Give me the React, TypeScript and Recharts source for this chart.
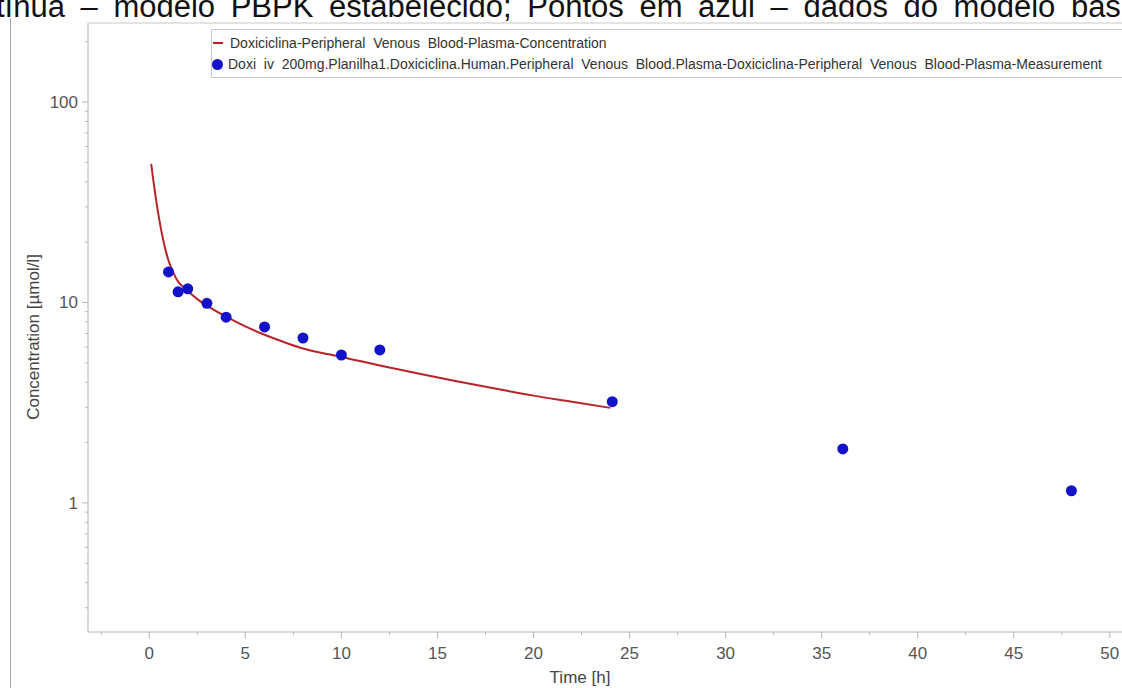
import React from "react";
import {
  ComposedChart,
  Line,
  Scatter,
  XAxis,
  YAxis,
  Legend,
  ReferenceLine,
  Label,
} from "recharts";

// simulated PBPK curve
const lineTime = [0.1, 0.2, 0.3, 0.4, 0.5, 0.6, 0.75, 1, 1.25, 1.5, 1.75, 2, 2.5, 3, 4, 5, 6, 7, 8, 9, 10, 12, 14, 16, 18, 20, 22, 24];
const lineConc = [49.1, 41.4, 35.3, 30.4, 26.6, 23.5, 20, 16.2, 14.1, 12.7, 12, 11.4, 10.4, 9.65, 8.5, 7.6, 6.9, 6.35, 5.9, 5.6, 5.35, 4.85, 4.42, 4.05, 3.72, 3.43, 3.2, 2.98];

// observed data
const measTime = [1, 1.5, 2, 3, 4, 6, 8, 10, 12, 24.1, 36.1, 48];
const measConc = [14.2, 11.3, 11.7, 9.9, 8.45, 7.55, 6.65, 5.47, 5.8, 3.2, 1.86, 1.15];

const xTicks = [-2.5, 0, 2.5, 5, 7.5, 10, 12.5, 15, 17.5, 20, 22.5, 25, 27.5, 30, 32.5, 35, 37.5, 40, 42.5, 45, 47.5, 50];
const yTicks = [0.3, 0.4, 0.5, 0.6, 0.7, 0.8, 0.9, 1, 2, 3, 4, 5, 6, 7, 8, 9, 10, 20, 30, 40, 50, 60, 70, 80, 90, 100, 200];
const yMajor = [1, 10, 100];

const lineName = "Doxiciclina-Peripheral  Venous  Blood-Plasma-Concentration";
const measName =
  "Doxi  iv  200mg.Planilha1.Doxiciclina.Human.Peripheral  Venous  Blood.Plasma-Doxiciclina-Peripheral  Venous  Blood-Plasma-Measurement";
const caption = "contínua – modelo PBPK estabelecido; Pontos em azul – dados do modelo bas";

const lineData = lineTime.map((t, i) => ({ time: t, conc: lineConc[i] }));
const measData = measTime.map((t, i) => ({ time: t, conc: measConc[i] }));

const FONT = "'Liberation Sans', Arial, sans-serif";
const AXIS = "#b4b4b4";

const XTick = (props: any) => {
  const { x, y, payload } = props;
  const major = payload.value % 5 === 0;
  return (
    <g>
      <line x1={x} x2={x} y1={y} y2={y + (major ? 6 : 3)} stroke={AXIS} />
      {major && (
        <text x={x} y={y + 27} textAnchor="middle" fontSize={17} fill="#555" fontFamily={FONT}>
          {payload.value}
        </text>
      )}
    </g>
  );
};

const YTick = (props: any) => {
  const { x, y, payload } = props;
  const major = yMajor.includes(payload.value);
  return (
    <g>
      <line x1={x - (major ? 6 : 3)} x2={x} y1={y} y2={y} stroke={AXIS} />
      {major && (
        <text x={x - 10} y={y + 6} textAnchor="end" fontSize={17} fill="#555" fontFamily={FONT}>
          {payload.value}
        </text>
      )}
    </g>
  );
};

const YLabel = () => (
  <text
    transform="translate(33,337) rotate(-90)"
    textAnchor="middle"
    dominantBaseline="central"
    fontSize={17}
    fill="#444"
    fontFamily={FONT}
  >
    Concentration [µmol/l]
  </text>
);

const XLabel = () => (
  <text x={580} y={683} textAnchor="middle" fontSize={17} fill="#444" fontFamily={FONT}>
    Time [h]
  </text>
);

const LegendBox = () => (
  <div
    style={{
      width: 930,
      height: 47,
      border: "1px solid #c8c8c8",
      background: "#fff",
      fontFamily: FONT,
      fontSize: 14,
      color: "#333",
      whiteSpace: "pre",
      position: "relative",
    }}
  >
    <div style={{ position: "absolute", left: 1, top: 5, display: "flex", alignItems: "center" }}>
      <span style={{ display: "inline-block", width: 10, height: 2, background: "#b8232a", marginRight: 7 }} />
      <span>{lineName}</span>
    </div>
    <div style={{ position: "absolute", left: 0, top: 26, display: "flex", alignItems: "center" }}>
      <span
        style={{ display: "inline-block", width: 11, height: 11, borderRadius: "50%", background: "#1212c8", marginRight: 5 }}
      />
      <span>{measName}</span>
    </div>
  </div>
);

export default function App() {
  return (
    <div style={{ position: "absolute", left: 0, top: 0, width: 1122, height: 688, overflow: "hidden", background: "#fff" }}>
      <div style={{ position: "absolute", left: 10, top: 18, height: 670, borderLeft: "1px solid #a8a8a8" }} />
      <svg width={1122} height={30} style={{ position: "absolute", left: 0, top: 0 }}>
        <text x={-54} y={17} fontSize={31} fontFamily={FONT} fill="#111" style={{ wordSpacing: 7 }}>
          {caption}
        </text>
      </svg>
      <div style={{ position: "absolute", left: 0, top: 0 }}>
        <ComposedChart width={1140} height={688} margin={{ top: 23, right: 10, bottom: 0, left: 28 }}>
          <XAxis
            dataKey="time"
            type="number"
            domain={[-3.19, 51.05]}
            ticks={xTicks}
            interval={0}
            allowDataOverflow
            tickLine={false}
            tickSize={0}
            tickMargin={0}
            height={56}
            stroke={AXIS}
            tick={<XTick />}
          >
            <Label content={<XLabel />} />
          </XAxis>
          <YAxis
            dataKey="conc"
            type="number"
            scale="log"
            domain={[0.227, 248]}
            ticks={yTicks}
            interval={0}
            allowDataOverflow
            tickLine={false}
            tickSize={0}
            tickMargin={0}
            width={60}
            stroke={AXIS}
            tick={<YTick />}
          >
            <Label content={<YLabel />} />
          </YAxis>
          <ReferenceLine y={248} stroke="#c8c8c8" />
          <Legend
            layout="horizontal"
            verticalAlign="middle"
            wrapperStyle={{ top: 29, left: 211, width: 932 }}
            content={<LegendBox />}
          />
          <Line
            data={lineData}
            dataKey="conc"
            name={lineName}
            type="monotone"
            stroke="#b8232a"
            strokeWidth={2}
            dot={false}
            isAnimationActive={false}
          />
          <Scatter
            data={measData}
            dataKey="conc"
            name={measName}
            fill="#1212c8"
            isAnimationActive={false}
            shape={(p: any) => <circle cx={p.cx} cy={p.cy} r={5.5} fill="#1212c8" />}
          />
        </ComposedChart>
      </div>
    </div>
  );
}
